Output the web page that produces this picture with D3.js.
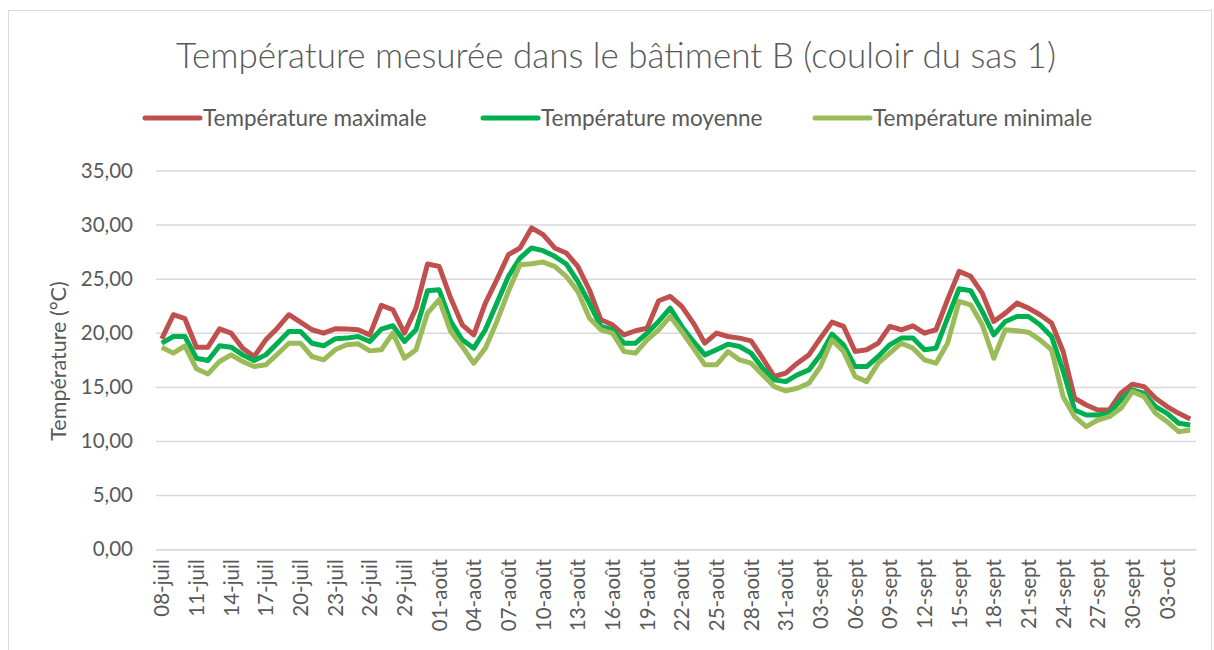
<!DOCTYPE html>
<html>
<head>
<meta charset="utf-8">
<script src="https://cdn.jsdelivr.net/npm/d3@7"></script>
<style>
  body { margin: 0; background: #fff; }
  text { font-family: Lato, "Open Sans", sans-serif; fill: #595959; }
</style>
</head>
<body>
<div class="chart-holder"></div>
<script>
// one entry per day, 08-juil -> 05-oct
const days = [
  '08-juil','09-juil','10-juil','11-juil','12-juil','13-juil','14-juil','15-juil','16-juil','17-juil',
  '18-juil','19-juil','20-juil','21-juil','22-juil','23-juil','24-juil','25-juil','26-juil','27-juil',
  '28-juil','29-juil','30-juil','31-juil',
  '01-août','02-août','03-août','04-août','05-août','06-août','07-août','08-août','09-août','10-août',
  '11-août','12-août','13-août','14-août','15-août','16-août','17-août','18-août','19-août','20-août',
  '21-août','22-août','23-août','24-août','25-août','26-août','27-août','28-août','29-août','30-août','31-août',
  '01-sept','02-sept','03-sept','04-sept','05-sept','06-sept','07-sept','08-sept','09-sept','10-sept',
  '11-sept','12-sept','13-sept','14-sept','15-sept','16-sept','17-sept','18-sept','19-sept','20-sept',
  '21-sept','22-sept','23-sept','24-sept','25-sept','26-sept','27-sept','28-sept','29-sept','30-sept',
  '01-oct','02-oct','03-oct','04-oct','05-oct'
];

const tempMax = [
  19.44, 21.67, 21.30, 18.67, 18.67, 20.37, 19.97, 18.58, 17.81, 19.35,
  20.43, 21.67, 20.99, 20.28, 19.97, 20.37, 20.34, 20.28, 19.81, 22.53,
  22.13, 19.97, 22.28, 26.36, 26.14, 23.21, 20.74, 19.81, 22.75, 24.91,
  27.22, 27.84, 29.69, 29.07, 27.84, 27.38, 26.14, 23.98, 21.20, 20.74,
  19.81, 20.19, 20.43, 22.96, 23.36, 22.44, 20.90, 19.04, 19.97, 19.66,
  19.51, 19.25, 17.65, 15.96, 16.27, 17.19, 17.96, 19.51, 20.99, 20.59,
  18.27, 18.43, 19.04, 20.59, 20.28, 20.65, 19.97, 20.28, 23.06, 25.68,
  25.22, 23.67, 21.05, 21.82, 22.75, 22.28, 21.67, 20.90, 18.27, 13.95,
  13.33, 12.87, 12.87, 14.41, 15.25, 15.03, 13.95, 13.18, 12.56, 12.04
];

const tempMoy = [
  19.04, 19.66, 19.66, 17.65, 17.44, 18.80, 18.67, 17.96, 17.44, 17.96,
  19.04, 20.12, 20.12, 19.04, 18.80, 19.44, 19.51, 19.66, 19.20, 20.34,
  20.65, 19.20, 20.28, 23.89, 23.98, 21.05, 19.35, 18.58, 20.28, 22.75,
  25.22, 26.91, 27.84, 27.59, 27.07, 26.36, 24.75, 22.75, 20.59, 20.28,
  19.04, 19.04, 19.97, 21.05, 22.28, 20.59, 19.20, 17.96, 18.43, 18.95,
  18.73, 18.12, 16.73, 15.65, 15.49, 16.11, 16.57, 17.96, 19.88, 18.89,
  16.88, 16.88, 17.81, 18.89, 19.51, 19.51, 18.43, 18.58, 21.36, 24.07,
  23.89, 21.98, 19.81, 21.05, 21.51, 21.51, 20.74, 19.66, 16.50, 12.87,
  12.41, 12.41, 12.56, 13.80, 14.72, 14.41, 13.18, 12.56, 11.64, 11.48
];

const tempMin = [
  18.67, 18.12, 18.80, 16.67, 16.20, 17.35, 17.96, 17.35, 16.88, 17.04,
  18.02, 19.04, 19.04, 17.81, 17.50, 18.43, 18.89, 18.98, 18.33, 18.43,
  19.97, 17.65, 18.43, 21.82, 23.06, 20.12, 18.73, 17.19, 18.58, 21.05,
  23.83, 26.30, 26.39, 26.54, 26.14, 25.22, 23.83, 21.36, 20.28, 19.97,
  18.27, 18.12, 19.35, 20.28, 21.51, 20.12, 18.58, 17.04, 17.04, 18.27,
  17.50, 17.19, 16.11, 15.03, 14.63, 14.88, 15.34, 16.88, 19.35, 18.27,
  15.96, 15.49, 17.19, 18.12, 19.04, 18.58, 17.50, 17.19, 19.04, 22.90,
  22.59, 20.74, 17.65, 20.28, 20.19, 20.06, 19.35, 18.43, 14.10, 12.25,
  11.33, 11.94, 12.25, 13.02, 14.57, 14.10, 12.56, 11.79, 10.86, 11.02
];

const seriesNames = ['Température maximale', 'Température moyenne', 'Température minimale'];
const seriesColors = ['#C0504D', '#00B050', '#9BBB59'];
const yTicks = [0, 5, 10, 15, 20, 25, 30, 35];

const W = 1214, H = 650;
const plotLeft = 156, plotRight = 1196, plotTop = 170.5, plotBottom = 549.2;

const fr = d3.formatLocale({decimal: ',', thousands: ' ', grouping: [3], currency: ['', '€']});
const fmt = fr.format('.2f');

const svg = d3.select('.chart-holder').append('svg')
  .attr('width', W)
  .attr('height', H);

// chart frame
svg.append('rect')
  .attr('x', 8.5).attr('y', 10.5)
  .attr('width', 1203).attr('height', 680)
  .attr('fill', 'none')
  .attr('stroke', '#d9d9d9');

svg.append('text')
  .attr('x', 616).attr('y', 68)
  .attr('text-anchor', 'middle')
  .style('font-size', '35px')
  .style('font-weight', 300)
  .text('Température mesurée dans le bâtiment B (couloir du sas 1)');

const x = d3.scalePoint().domain(days).range([plotLeft, plotRight]).padding(0.5);
const y = d3.scaleLinear().domain([0, 35]).range([plotBottom, plotTop]);

// gridlines + y labels
const yAxis = svg.append('g')
  .attr('transform', `translate(${plotLeft},0)`)
  .call(d3.axisLeft(y).tickValues(yTicks).tickSize(-(plotRight - plotLeft)).tickPadding(23).tickFormat(fmt));
yAxis.select('.domain').remove();
yAxis.selectAll('line').attr('stroke', '#d9d9d9').attr('stroke-width', 1.5);
yAxis.selectAll('text').style('font-size', '20.5px').attr('fill', '#595959');

// x axis
const xAxis = svg.append('g')
  .attr('transform', `translate(0,${plotBottom})`)
  .call(d3.axisBottom(x)
    .tickValues(days.filter((d, i) => i % 3 === 0))
    .tickSize(0));
xAxis.select('.domain').attr('stroke', '#d9d9d9').attr('stroke-width', 1.5);
xAxis.selectAll('text')
  .style('font-size', '20.5px')
  .attr('fill', '#595959')
  .attr('text-anchor', 'end')
  .attr('transform', 'rotate(-90)')
  .attr('x', -10)
  .attr('y', 0)
  .attr('dy', '0.35em');

svg.append('text')
  .attr('transform', 'translate(66,361) rotate(-90)')
  .attr('text-anchor', 'middle')
  .style('font-size', '21.5px')
  .text('Température (°C)');

// lines
const line = d3.line()
  .x((d, i) => x(days[i]))
  .y(d => y(d));

[tempMax, tempMoy, tempMin].forEach((vals, k) => {
  svg.append('path')
    .datum(vals)
    .attr('d', line)
    .attr('fill', 'none')
    .attr('stroke', seriesColors[k])
    .attr('stroke-width', 5)
    .attr('stroke-linejoin', 'round');
});

// legend
const legendX = [145, 483, 815];
seriesNames.forEach((name, k) => {
  const g = svg.append('g').attr('transform', `translate(${legendX[k]},118)`);
  g.append('line')
    .attr('x1', 0).attr('x2', 55)
    .attr('stroke', seriesColors[k])
    .attr('stroke-width', 5)
    .attr('stroke-linecap', 'round');
  g.append('text')
    .attr('x', 58).attr('dy', '0.35em')
    .style('font-size', '22.5px')
    .text(name);
});
</script>
</body>
</html>
